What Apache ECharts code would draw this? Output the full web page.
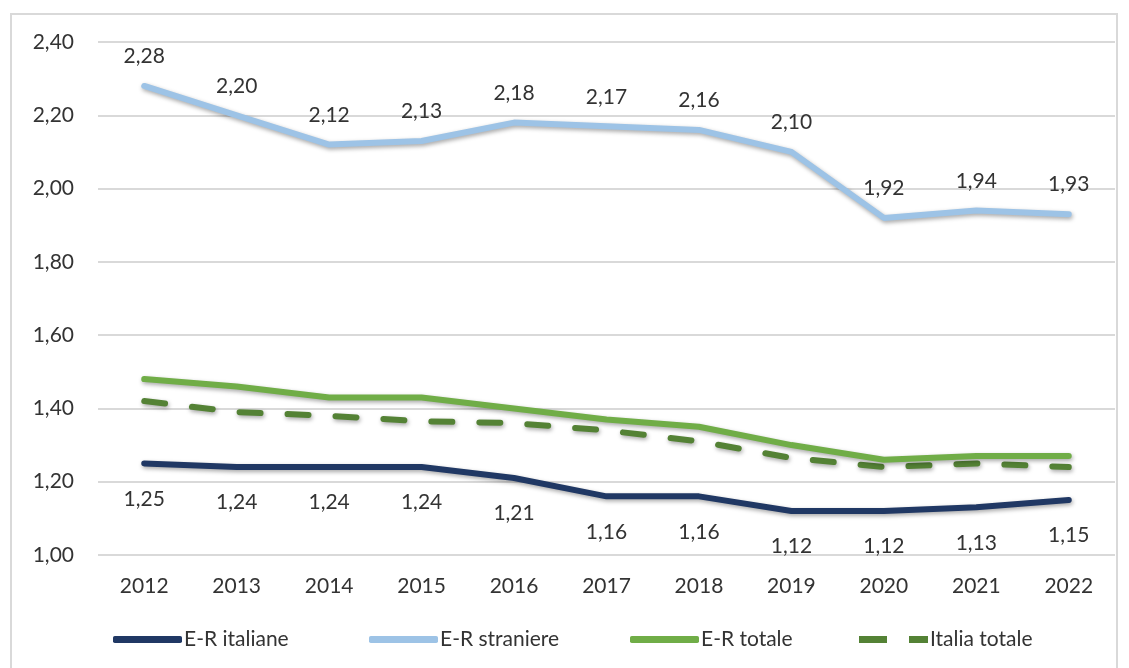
<!DOCTYPE html>
<html>
<head>
<meta charset="utf-8">
<script src="https://cdn.jsdelivr.net/npm/echarts@6/dist/echarts.min.js"></script>
<style>
  html, body { margin: 0; padding: 0; background: #fff; }
  #chart { width: 1129px; height: 668px; }
</style>
</head>
<body>
<div id="chart"></div>
<script>
const years = ["2012", "2013", "2014", "2015", "2016", "2017", "2018", "2019", "2020", "2021", "2022"];
const erItaliane = [1.25, 1.24, 1.24, 1.24, 1.21, 1.16, 1.16, 1.12, 1.12, 1.13, 1.15];
const erStraniere = [2.28, 2.20, 2.12, 2.13, 2.18, 2.17, 2.16, 2.10, 1.92, 1.94, 1.93];
const erTotale = [1.48, 1.46, 1.43, 1.43, 1.40, 1.37, 1.35, 1.30, 1.26, 1.27, 1.27];
const italiaTotale = [1.42, 1.39, 1.38, 1.365, 1.36, 1.34, 1.31, 1.265, 1.24, 1.25, 1.24];

const font = "Lato, 'Open Sans', sans-serif";
const txt = "#333";
const fmt = (v) => v.toFixed(2).replace(".", ",");
const shadow = { shadowBlur: 4, shadowColor: "rgba(0,0,0,0.35)", shadowOffsetX: 1, shadowOffsetY: 2 };

// one legend per item so each sits where the original puts it
function legendAt(left, name, icon) {
  return {
    left: left,
    top: 624,
    itemWidth: 69,
    itemHeight: 7,
    icon: icon,
    textStyle: { fontFamily: font, fontSize: 21, color: txt, padding: [0, 0, 0, -3] },
    data: [name],
  };
}

const chart = echarts.init(document.getElementById("chart"));
chart.setOption({
  animation: false,
  graphic: [
    {
      type: "rect",
      shape: { x: 11, y: 14, width: 1106, height: 670 },
      style: { fill: "none", stroke: "#d9d9d9", lineWidth: 2 },
      silent: true,
    },
  ],
  grid: { left: 98, right: 14, top: 42, bottom: 113 },
  legend: [
    legendAt(108, "E-R italiane", "roundRect"),
    legendAt(364, "E-R straniere", "roundRect"),
    legendAt(625, "E-R totale", "roundRect"),
    legendAt(854, "Italia totale", "path://M0,0h28v7h-28z M50,0h19v7h-19z"),
  ],
  xAxis: {
    type: "category",
    data: years,
    boundaryGap: true,
    axisLine: { show: false },
    axisTick: { show: false },
    axisLabel: { fontFamily: font, fontSize: 21, color: txt, margin: 21 },
  },
  yAxis: {
    type: "value",
    min: 1.0,
    max: 2.4,
    interval: 0.2,
    axisLabel: { fontFamily: font, fontSize: 21, color: txt, margin: 24, formatter: fmt },
    splitLine: { lineStyle: { color: "#d9d9d9", width: 2 } },
  },
  series: [
    {
      name: "E-R italiane",
      type: "line",
      data: erItaliane,
      symbol: "circle",
      symbolSize: 0,
      z: 4,
      color: "#203864",
      lineStyle: Object.assign({ width: 6, color: "#203864", cap: "round" }, shadow),
      label: {
        show: true,
        position: "bottom",
        distance: 25,
        formatter: (p) => fmt(p.value),
        fontFamily: font,
        fontSize: 21,
        color: txt,
      },
    },
    {
      name: "E-R straniere",
      type: "line",
      data: erStraniere,
      symbol: "circle",
      symbolSize: 0,
      z: 3,
      color: "#9dc3e6",
      lineStyle: Object.assign({ width: 6, color: "#9dc3e6", cap: "round" }, shadow),
      label: {
        show: true,
        position: "top",
        distance: 19,
        formatter: (p) => fmt(p.value),
        fontFamily: font,
        fontSize: 21,
        color: txt,
      },
    },
    {
      name: "E-R totale",
      type: "line",
      data: erTotale,
      symbol: "none",
      z: 2,
      color: "#70ad47",
      lineStyle: Object.assign({ width: 6, color: "#70ad47", cap: "round" }, shadow),
    },
    {
      name: "Italia totale",
      type: "line",
      data: italiaTotale,
      symbol: "none",
      z: 1,
      color: "#548235",
      lineStyle: Object.assign({ width: 6, color: "#548235", type: [21, 27], cap: "round" }, shadow),
    },
  ],
});
</script>
</body>
</html>
